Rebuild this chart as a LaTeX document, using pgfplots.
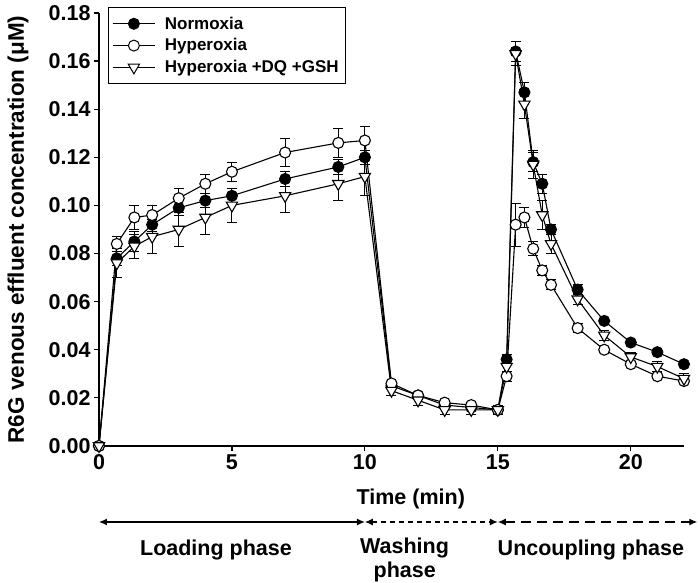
\documentclass[border=0pt]{standalone}
\usepackage{pgfplots}
\usepackage{pgfplotstable}
\pgfplotsset{compat=1.18}
\usepackage{fontspec}
\setmainfont{Liberation Sans}
\usetikzlibrary{arrows.meta}

\pgfplotstableread{
t y e
0 0 0
0.67 0.078 0.003
1.33 0.085 0.004
2 0.092 0.003
3 0.099 0.003
4 0.102 0.003
5 0.104 0.003
7 0.111 0.003
9 0.116 0.003
10 0.120 0.003
11 0.025 0.001
12 0.021 0.001
13 0.017 0.001
14 0.016 0.001
15 0.015 0.001
15.33 0.036 0.002
15.67 0.164 0.004
16 0.147 0.004
16.33 0.118 0.004
16.67 0.109 0.004
17 0.090 0.002
18 0.065 0.002
19 0.052 0.001
20 0.043 0.001
21 0.039 0.001
22 0.034 0.001
}\normoxia

\pgfplotstableread{
t y e
0 0 0
0.67 0.084 0.003
1.33 0.095 0.005
2 0.096 0.004
3 0.103 0.004
4 0.109 0.004
5 0.114 0.004
7 0.122 0.006
9 0.126 0.006
10 0.127 0.006
11 0.026 0.001
12 0.021 0.001
13 0.018 0.001
14 0.017 0.001
15 0.015 0.001
15.33 0.029 0.002
15.67 0.092 0.009
16 0.095 0.004
16.33 0.082 0.003
16.67 0.073 0.002
17 0.067 0.002
18 0.049 0.002
19 0.040 0.001
20 0.034 0.001
21 0.029 0.001
22 0.027 0.001
}\hyperoxia

\pgfplotstableread{
t y e
0 0 0
0.67 0.076 0.006
1.33 0.083 0.005
2 0.087 0.007
3 0.090 0.007
4 0.095 0.007
5 0.100 0.007
7 0.104 0.007
9 0.109 0.007
10 0.112 0.008
11 0.023 0.002
12 0.019 0.002
13 0.015 0.002
14 0.015 0.002
15 0.015 0.002
15.33 0.033 0.002
15.67 0.163 0.005
16 0.142 0.006
16.33 0.117 0.006
16.67 0.096 0.006
17 0.084 0.004
18 0.061 0.002
19 0.046 0.002
20 0.037 0.002
21 0.033 0.002
22 0.028 0.002
}\hyperdq

\begin{document}
\begin{tikzpicture}
\begin{axis}[
  scale only axis, width=585bp, height=433bp,
  xmin=0, xmax=22, ymin=0, ymax=0.18,
  axis x line*=bottom, axis y line*=left,
  axis line style={-, line width=1.3bp},
  tick style={line width=1.2bp, black},
  major tick length=5bp, tick align=outside,
  xtick={0,5,10,15,20},
  ytick={0,0.02,0.04,0.06,0.08,0.10,0.12,0.14,0.16,0.18},
  scaled y ticks=false,
  yticklabel style={/pgf/number format/.cd, fixed, fixed zerofill, precision=2},
  /pgf/number format/assume math mode=true,
  ticklabel style={font=\fontsize{21.5bp}{24bp}\selectfont\bfseries},
  xlabel={Time (min)},
  xlabel style={at={(rel axis cs:0.533,-0.122)}, anchor=center, font=\fontsize{21.5bp}{24bp}\selectfont\bfseries},
  ylabel={R6G venous effluent concentration (μM)},
  ylabel style={at={(rel axis cs:-0.1385,0.5)}, anchor=center, font=\fontsize{22.5bp}{26bp}\selectfont\bfseries},
  clip=false,
  legend cell align=left,
  legend style={draw=black, line width=0.8bp, at={(rel axis cs:0.0154,1.0139)}, anchor=north west,
    font=\fontsize{17bp}{20bp}\selectfont\bfseries, inner xsep=4bp, inner ysep=7bp, row sep=3bp,
    column sep=7bp, nodes={inner sep=2.5bp}},
  legend image code/.code={\draw[mark repeat=2, mark phase=2, line width=1bp] plot coordinates {(0bp,0bp) (21bp,0bp) (42bp,0bp)};},
  error bars/error mark options={rotate=90, mark size=5bp, line width=1bp, black},
  error bars/error bar style={line width=1bp, black},
]
\addplot[black, line width=1.1bp, mark=*, mark size=5.5bp, mark options={fill=black, solid},
  error bars/.cd, y dir=both, y explicit] table[x=t, y=y, y error=e] {\normoxia};
\addlegendentry{Normoxia}
\addplot[black, line width=1.1bp, mark=*, mark size=5.5bp, mark options={fill=white, solid},
  error bars/.cd, y dir=both, y explicit] table[x=t, y=y, y error=e] {\hyperoxia};
\addlegendentry{Hyperoxia}
\addplot[black, line width=1.1bp, mark=triangle*, mark size=6.5bp, mark options={fill=white, solid, rotate=180},
  error bars/.cd, y dir=both, y explicit] table[x=t, y=y, y error=e] {\hyperdq};
\addlegendentry{Hyperoxia +DQ +GSH}

\draw[line width=1.2bp, {Latex[length=8bp,width=7bp]}-{Latex[length=8bp,width=7bp]}] (axis cs:0,-0.0316) -- (axis cs:10,-0.0316);
\draw[line width=1.2bp, dash pattern=on 5bp off 4bp, {Latex[length=8bp,width=7bp]}-{Latex[length=8bp,width=7bp]}] (axis cs:10,-0.0316) -- (axis cs:15,-0.0316);
\draw[line width=1.2bp, dash pattern=on 10bp off 6bp, {Latex[length=8bp,width=7bp]}-{Latex[length=8bp,width=7bp]}] (axis cs:15,-0.0316) -- (axis cs:22.5,-0.0316);

\node[font=\fontsize{21.5bp}{24bp}\selectfont\bfseries] at (axis cs:4.4,-0.0432) {Loading phase};
\node[font=\fontsize{21.5bp}{24bp}\selectfont\bfseries] at (axis cs:11.49,-0.0424) {Washing};
\node[font=\fontsize{21.5bp}{24bp}\selectfont\bfseries] at (axis cs:11.5,-0.0524) {phase};
\node[font=\fontsize{21.5bp}{24bp}\selectfont\bfseries] at (axis cs:18.5,-0.0432) {Uncoupling phase};

\coordinate (bbSW) at (rel axis cs:-0.1692,-0.3164);
\coordinate (bbNE) at (rel axis cs:1.0274,1.030);
\end{axis}
\pgfresetboundingbox
\useasboundingbox (bbSW) rectangle (bbNE);
\end{tikzpicture}
\end{document}
